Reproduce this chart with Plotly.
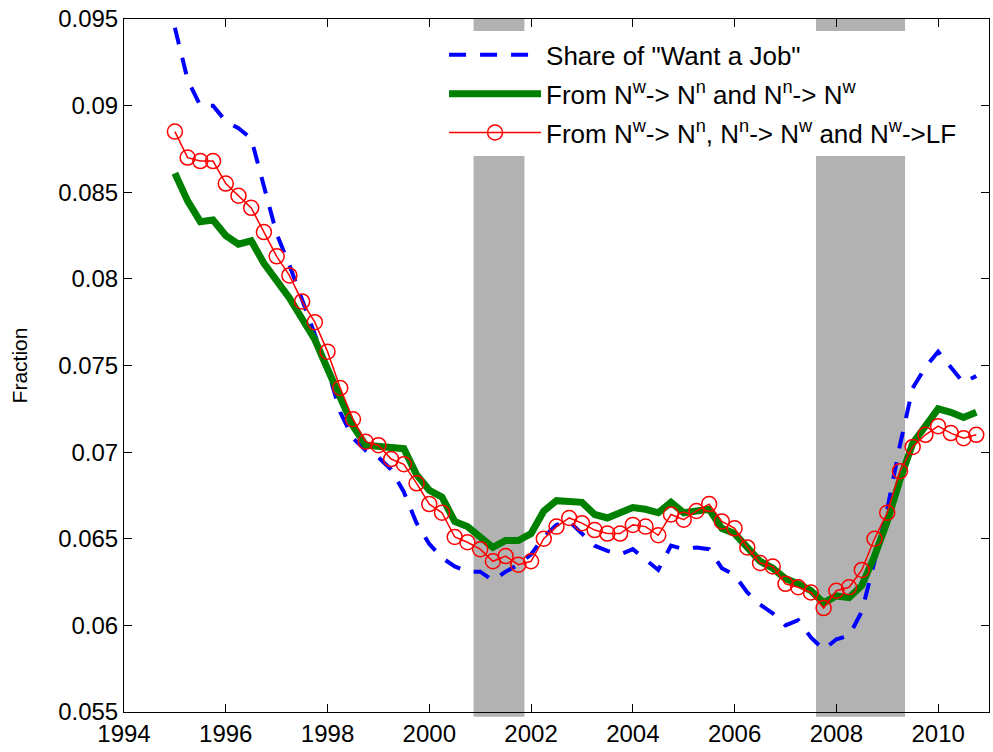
import plotly.graph_objects as go

# quarterly observations, 1995Q1 .. 2010Q4
quarters = [1995 + 0.25 * i for i in range(64)]

want_job = [
    0.0945, 0.0915, 0.0900, 0.0900, 0.0891, 0.0887, 0.0881, 0.0853,
    0.0826, 0.0808, 0.0788, 0.0769, 0.0748, 0.0723, 0.0708, 0.0701,
    0.0697, 0.0690, 0.0677, 0.0659, 0.0647, 0.0639, 0.0634, 0.0631,
    0.0631, 0.0626, 0.0631, 0.0635, 0.0641, 0.0651, 0.0658, 0.0660,
    0.0653, 0.0646, 0.0643, 0.0641, 0.0644, 0.0638, 0.0632, 0.0646,
    0.0644, 0.0645, 0.0644, 0.0633, 0.0629, 0.0619, 0.0612, 0.0607,
    0.0600, 0.0603, 0.0593, 0.0586, 0.0592, 0.0594, 0.0608, 0.0637,
    0.0667, 0.0704, 0.0737, 0.0749, 0.0758, 0.0749, 0.0740, 0.0744,
]

flows_two = [
    0.0861, 0.0845, 0.0833, 0.0834, 0.0825, 0.0820, 0.0822, 0.0809,
    0.0799, 0.0789, 0.0777, 0.0765, 0.0748, 0.0732, 0.0715, 0.0704,
    0.0703, 0.0702, 0.0702, 0.0687, 0.0678, 0.0674, 0.0660, 0.0657,
    0.0651, 0.0645, 0.0649, 0.0649, 0.0653, 0.0666, 0.0672, 0.0672,
    0.0671, 0.0664, 0.0662, 0.0665, 0.0668, 0.0667, 0.0665, 0.0671,
    0.0665, 0.0666, 0.0667, 0.0656, 0.0653, 0.0645, 0.0637, 0.0633,
    0.0627, 0.0624, 0.0620, 0.0613, 0.0617, 0.0616, 0.0623, 0.0640,
    0.0660, 0.0684, 0.0705, 0.0715, 0.0725, 0.0723, 0.0720, 0.0723,
]

flows_three = [
    0.0885, 0.0870, 0.0868, 0.0868, 0.0855, 0.0848, 0.0841, 0.0827,
    0.0813, 0.0802, 0.0787, 0.0775, 0.0758, 0.0737, 0.0719, 0.0706,
    0.0704, 0.0696, 0.0693, 0.0682, 0.0670, 0.0665, 0.0651, 0.0648,
    0.0644, 0.0637, 0.0640, 0.0635, 0.0637, 0.0650, 0.0657, 0.0662,
    0.0659, 0.0655, 0.0653, 0.0653, 0.0658, 0.0657, 0.0652, 0.0664,
    0.0661, 0.0666, 0.0670, 0.0660, 0.0656, 0.0645, 0.0636, 0.0634,
    0.0624, 0.0622, 0.0619, 0.0610, 0.0620, 0.0622, 0.0632, 0.0650,
    0.0665, 0.0689, 0.0703, 0.0710, 0.0715, 0.0711, 0.0708, 0.0710,
]

# recession shading (start, end)
recessions = [(2000.87, 2001.87), (2007.6, 2009.35)]

x_ticks = [1994, 1996, 1998, 2000, 2002, 2004, 2006, 2008, 2010]
y_ticks = [0.055, 0.06, 0.065, 0.07, 0.075, 0.08, 0.085, 0.09, 0.095]
y_labels = ["0.055", "0.06", "0.065", "0.07", "0.075", "0.08", "0.085", "0.09", "0.095"]

font_name = "Liberation Sans, Arial, sans-serif"

fig = go.Figure()

for r0, r1 in recessions:
    fig.add_shape(
        type="rect",
        xref="x",
        yref="paper",
        x0=r0,
        x1=r1,
        y0=-0.007,
        y1=1,
        fillcolor="#b2b2b2",
        line_width=0,
        layer="below",
    )

fig.add_trace(go.Scatter(
    x=quarters, y=want_job, mode="lines",
    name='Share of "Want a Job"',
    legendgroup="a",
    line=dict(color="#0000ff", width=4, dash="17px,14px"),
))
fig.add_trace(go.Scatter(
    x=quarters, y=flows_two, mode="lines",
    name="From N<sup>w</sup>-&gt; N<sup>n</sup> and N<sup>n</sup>-&gt; N<sup>w</sup>",
    legendgroup="b",
    line=dict(color="#008000", width=7),
))
fig.add_trace(go.Scatter(
    x=quarters, y=flows_three, mode="lines+markers",
    name="From N<sup>w</sup>-&gt; N<sup>n</sup>, N<sup>n</sup>-&gt; N<sup>w</sup> and N<sup>w</sup>-&gt;LF",
    legendgroup="c",
    line=dict(color="#ff0000", width=1.5),
    marker=dict(symbol="circle-open", size=15, color="#ff0000", line=dict(width=1.5)),
))

fig.update_xaxes(
    range=[1994, 2011],
    tickvals=x_ticks,
    ticks="inside",
    ticklen=8,
    tickcolor="black",
    showline=True,
    linecolor="black",
    linewidth=1,
    mirror="ticks",
    showgrid=False,
    zeroline=False,
    tickfont=dict(size=24, color="black"),
)
fig.update_yaxes(
    range=[0.055, 0.095],
    tickvals=y_ticks,
    ticktext=y_labels,
    ticks="inside",
    ticklen=8,
    tickcolor="black",
    showline=True,
    linecolor="black",
    linewidth=1,
    mirror="ticks",
    showgrid=False,
    zeroline=False,
    tickfont=dict(size=24, color="black"),
    title=dict(text="Fraction", font=dict(size=21, color="black"), standoff=24),
)

fig.update_layout(
    width=993,
    height=752,
    margin=dict(l=124, r=4, t=19, b=40, autoexpand=False),
    plot_bgcolor="white",
    paper_bgcolor="white",
    font=dict(family=font_name, size=20, color="black"),
    legend=dict(
        x=0.37,
        y=0.982,
        xanchor="left",
        yanchor="top",
        bgcolor="white",
        borderwidth=0,
        itemwidth=92,
        font=dict(size=26, color="black"),
        tracegroupgap=2,
    ),
)

# drop the default page margin so the figure sits at the window origin
fig.write_html(
    "out.html",
    config={"displayModeBar": False},
    post_script="document.body.style.margin='0';",
)
